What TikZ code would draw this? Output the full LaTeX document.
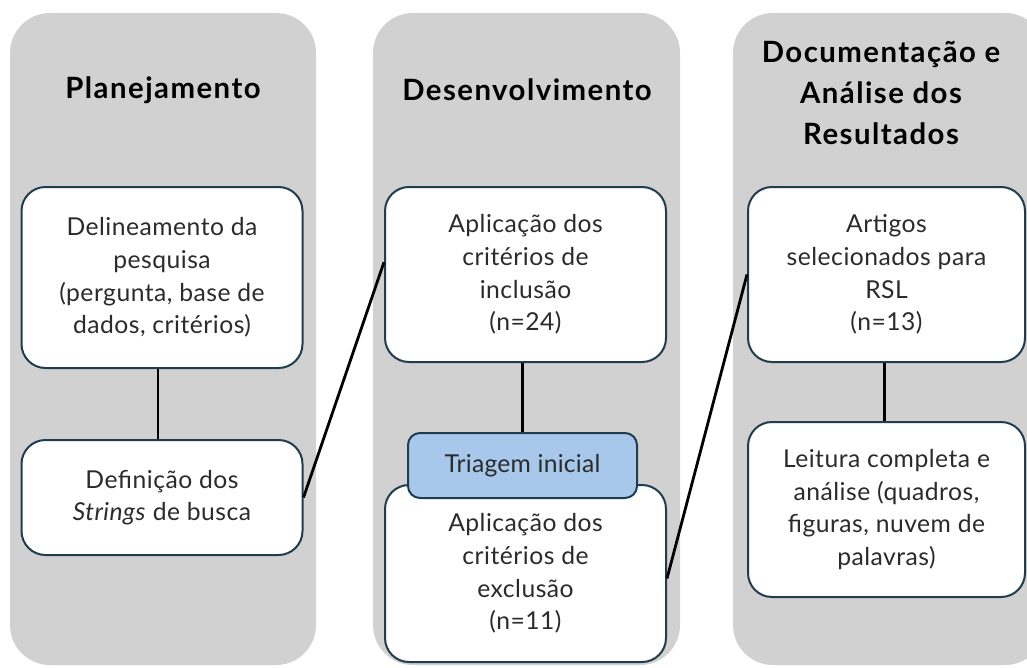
\documentclass[tikz,border=0pt]{standalone}
\usepackage{fontspec}
\setmainfont{Lato}
\newlength\pxu
\setlength\pxu{0.75pt}
\definecolor{panelgray}{HTML}{D1D1D1}
\definecolor{boxline}{HTML}{1F3D4F}
\definecolor{triblue}{HTML}{A7C8EA}
\definecolor{bodytext}{HTML}{2B2B2B}
\begin{document}
\begin{tikzpicture}[x=0.75pt,y=-0.75pt,
  panel/.style={fill=panelgray, draw=none, rounded corners=40\pxu},
  stepbox/.style={draw=boxline, line width=1.5pt, fill=white, rounded corners=24\pxu,
    align=center, inner sep=0pt, text=bodytext,
    font=\fontsize{18.5}{24.5}\selectfont\addfontfeature{LetterSpace=2}},
  tribox/.style={draw=boxline, line width=1.5pt, fill=triblue, rounded corners=12\pxu,
    align=center, inner sep=0pt, text=bodytext,
    font=\fontsize{18.5}{24.5}\selectfont\addfontfeature{LetterSpace=1}},
  header/.style={align=center, text=black,
    font=\bfseries\fontsize{22}{31}\selectfont\addfontfeature{LetterSpace=5}},
  vlink/.style={draw=black, line width=1.6pt},
  xlink/.style={draw=black, line width=2.1pt}]
\useasboundingbox (0,0) rectangle (1027,667);
\begin{scope}
\clip (0,0) rectangle (1027,667);
\fill[panel] (10,13) rectangle (316,665);
\fill[panel] (373,13) rectangle (680,665);
\fill[panel] (733,13) rectangle (1045,665);
\end{scope}
% headers
\node[header] (h1) at (163,90) {Planejamento};
\node[header] (h2) at (527,90) {Desenvolvimento};
\node[header] (h3) at (881,93) {Documentação e\\Análise dos\\Resultados};
% boxes
\node[stepbox, minimum width=281\pxu, minimum height=181\pxu] (A) at (162,277.5)
  {Delineamento da\\pesquisa\\(pergunta, base de\\dados, critérios)};
\node[stepbox, minimum width=281\pxu, minimum height=115\pxu] (B) at (162,497.5)
  {Definição dos\\\textit{Strings} de busca};
\node[stepbox, minimum width=281\pxu, minimum height=175\pxu] (C) at (525.5,274.5)
  {Aplicação dos\\critérios de\\inclusão\\(n=24)};
\node[stepbox, minimum width=281\pxu, minimum height=177\pxu] (D) at (525.5,573.5)
  {Aplicação dos\\critérios de\\exclusão\\(n=11)};
\node[tribox, minimum width=229\pxu, minimum height=65\pxu] (T) at (522.5,465.5)
  {Triagem inicial};
\node[stepbox, minimum width=277\pxu, minimum height=175\pxu] (E) at (886.5,274.5)
  {Artigos\\selecionados para\\RSL\\(n=13)};
\node[stepbox, minimum width=277\pxu, minimum height=175\pxu] (F) at (886.5,509.5)
  {Leitura completa e\\análise (quadros,\\figuras, nuvem de\\palavras)};
% connectors
\draw[vlink] ([xshift=-4\pxu]A.south) -- ([xshift=-4\pxu]B.north);
\draw[vlink] (T.north |- C.south) -- (T.north);
\draw[vlink] ([xshift=-2\pxu]E.south) -- ([xshift=-2\pxu]F.north);
\draw[xlink] (B.east) -- (C.175);
\draw[xlink] (D.-2) -- (E.west);
\end{tikzpicture}
\end{document}
